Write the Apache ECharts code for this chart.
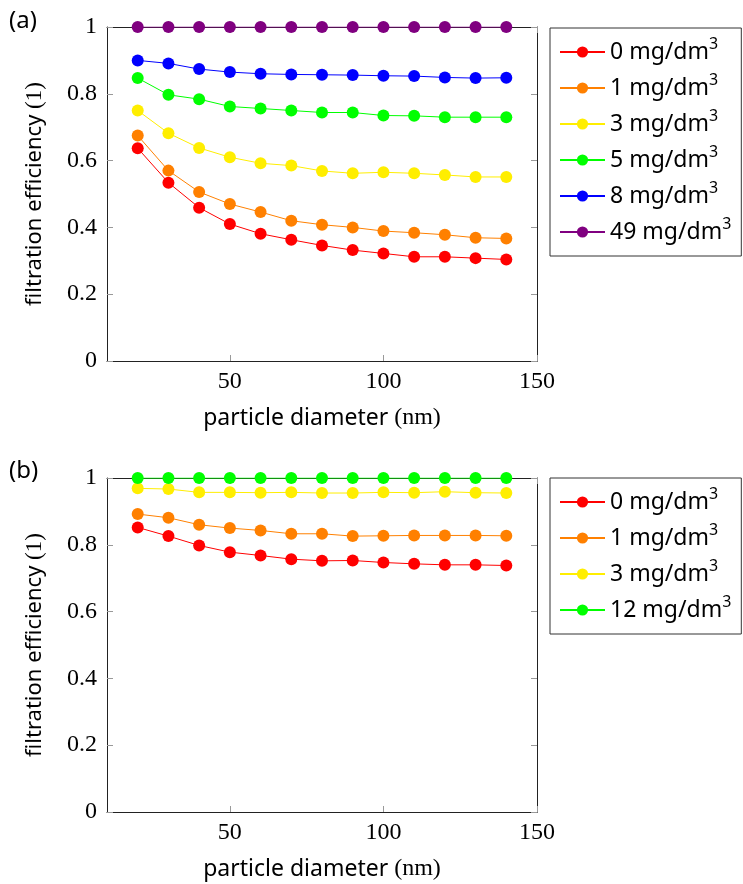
<!DOCTYPE html>
<html>
<head>
<meta charset="utf-8">
<script src="https://cdn.jsdelivr.net/npm/echarts@6/dist/echarts.min.js"></script>
<style>html,body{margin:0;padding:0;background:#fff}#c{width:743px;height:884px}</style>
</head>
<body>
<div id="c"></div>
<script>
// ---- data ----
const diameters = [20, 30, 40, 50, 60, 70, 80, 90, 100, 110, 120, 130, 140];
const xTicks = [50, 100, 150];
const yTicks = [0, 0.2, 0.4, 0.6, 0.8, 1];

const concA = ['0', '1', '3', '5', '8', '49'];
const a0  = [0.637, 0.534, 0.459, 0.410, 0.381, 0.363, 0.346, 0.332, 0.322, 0.312, 0.312, 0.308, 0.304];
const a1  = [0.675, 0.570, 0.506, 0.470, 0.446, 0.420, 0.408, 0.400, 0.389, 0.384, 0.378, 0.369, 0.367];
const a3  = [0.750, 0.682, 0.638, 0.610, 0.592, 0.585, 0.569, 0.562, 0.565, 0.562, 0.557, 0.551, 0.551];
const a5  = [0.847, 0.797, 0.784, 0.762, 0.756, 0.750, 0.744, 0.744, 0.735, 0.734, 0.730, 0.730, 0.730];
const a8  = [0.900, 0.891, 0.874, 0.865, 0.860, 0.858, 0.857, 0.856, 0.854, 0.853, 0.849, 0.847, 0.848];
const a49 = [1, 1, 1, 1, 1, 1, 1, 1, 1, 1, 1, 1, 1];

const concB = ['0', '1', '3', '12'];
const b0  = [0.852, 0.826, 0.798, 0.778, 0.768, 0.757, 0.752, 0.753, 0.747, 0.743, 0.740, 0.740, 0.738];
const b1  = [0.892, 0.881, 0.860, 0.850, 0.843, 0.833, 0.833, 0.826, 0.827, 0.828, 0.828, 0.828, 0.827];
const b3  = [0.969, 0.967, 0.957, 0.957, 0.956, 0.957, 0.955, 0.955, 0.957, 0.956, 0.959, 0.956, 0.955];
const b12 = [1, 1, 1, 1, 1, 1, 1, 1, 1, 1, 1, 1, 1];

const colorsA = ['#ff0000', '#ff8000', '#ffee00', '#00ff00', '#0000ff', '#800080'];
const colorsB = ['#ff0000', '#ff8000', '#ffee00', '#00ff00'];

// ---- styling helpers ----
const SERIF = '"Liberation Serif", "DejaVu Serif", serif';
const SANS = '"Noto Sans", "DejaVu Sans", sans-serif';
const unit = c => c + ' mg/dm³';

function xAxes(gridIndex) {
  const base = {
    type: 'value', gridIndex, min: 10, max: 150,
    splitLine: { show: false },
    axisLine: { show: true, onZero: false, lineStyle: { color: '#222', width: 1 } },
    axisTick: { show: true, inside: true, length: 6, customValues: xTicks, lineStyle: { color: '#999' } },
  };
  return [
    Object.assign({}, base, {
      position: 'bottom',
      axisLabel: { show: true, customValues: xTicks, margin: 9, fontFamily: SERIF, fontSize: 24, color: '#000' },
      name: '{a|particle diameter }{b|(nm)}',
      nameLocation: 'middle', nameGap: 45,
      nameTextStyle: { rich: { a: { fontFamily: SANS, fontSize: 23, color: '#000' }, b: { fontFamily: SERIF, fontSize: 24, color: '#000' } } }
    }),
    Object.assign({}, base, { position: 'top', axisLabel: { show: false } })
  ];
}
function yAxes(gridIndex) {
  const base = {
    type: 'value', gridIndex, min: 0, max: 1, interval: 0.2,
    splitLine: { show: false },
    axisLine: { show: true, onZero: false, lineStyle: { color: '#222', width: 1 } },
    axisTick: { show: true, inside: true, length: 6, lineStyle: { color: '#999' } },
  };
  return [
    Object.assign({}, base, {
      position: 'left',
      axisLabel: { show: true, margin: 10, fontFamily: SERIF, fontSize: 24, color: '#000',
        formatter: v => yTicks.indexOf(Math.round(v * 10) / 10) >= 0 ? String(Math.round(v * 10) / 10) : '' },
      name: '{a|filtration efficiency }{b|(1)}',
      nameLocation: 'middle', nameGap: 61, nameRotate: 90,
      nameTextStyle: { rich: { a: { fontFamily: SANS, fontSize: 22, color: '#000' }, b: { fontFamily: SERIF, fontSize: 23, color: '#000' } } }
    }),
    Object.assign({}, base, { position: 'right', axisLabel: { show: false } })
  ];
}
function mkSeries(name, values, color, xi, yi) {
  return {
    type: 'line', name, xAxisIndex: xi, yAxisIndex: yi,
    data: diameters.map((d, i) => [d, values[i]]),
    symbol: 'circle', symbolSize: 12, showSymbol: true,
    itemStyle: { color }, lineStyle: { color, width: 1 },
    emphasis: { disabled: true }, animation: false, z: 3
  };
}
function legend(top, names) {
  return {
    left: 550, top, orient: 'vertical',
    data: names,
    padding: [8, 10, 8, 9], itemGap: 4,
    itemWidth: 45, itemHeight: 14,
    borderColor: '#333', borderWidth: 1, backgroundColor: '#fff',
    formatter: n => '{t|' + n.replace('³', '') + '}{s|3}',
    textStyle: {
      backgroundColor: 'rgba(255,255,255,0)',
      rich: {
        t: { fontFamily: SANS, fontSize: 23, color: '#000', lineHeight: 32 },
        s: { fontFamily: SANS, fontSize: 16, color: '#000', lineHeight: 14, verticalAlign: 'top' }
      }
    },
    selectedMode: false
  };
}

const valsA = [a0, a1, a3, a5, a8, a49];
const valsB = [b0, b1, b3, b12];
const series = [];
concA.forEach((c, i) => series.push(mkSeries(unit(c), valsA[i], colorsA[i], 0, 0)));
concB.forEach((c, i) => series.push(mkSeries(unit(c), valsB[i], colorsB[i], 2, 2)));

const chart = echarts.init(document.getElementById('c'), null, { renderer: 'canvas' });
chart.setOption({
  animation: false,
  grid: [
    { left: 107, top: 27, width: 430, height: 334 },
    { left: 107, top: 478, width: 430, height: 334 }
  ],
  xAxis: [...xAxes(0), ...xAxes(1)],
  yAxis: [...yAxes(0), ...yAxes(1)],
  legend: [legend(28, concA.map(unit)), legend(478, concB.map(unit))],
  graphic: [
    { type: 'text', left: 9, top: 9, style: { text: '(a)', fontFamily: SANS, fontSize: 24, fill: '#000' } },
    { type: 'text', left: 9, top: 459, style: { text: '(b)', fontFamily: SANS, fontSize: 24, fill: '#000' } }
  ],
  series
});
</script>
</body>
</html>
